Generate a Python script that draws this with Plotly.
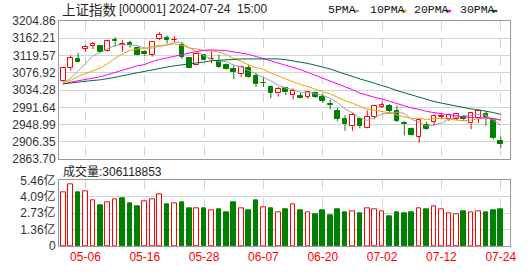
import plotly.graph_objects as go
import pandas as pd

# ---------------- data ----------------
dates = ["04-26", "04-29", "04-30", "05-06", "05-07", "05-08", "05-09", "05-10", "05-13", "05-14",
         "05-15", "05-16", "05-17", "05-20", "05-21", "05-22", "05-23", "05-24", "05-27", "05-28",
         "05-29", "05-30", "05-31", "06-03", "06-04", "06-05", "06-06", "06-07", "06-11", "06-12",
         "06-13", "06-14", "06-17", "06-18", "06-19", "06-20", "06-21", "06-24", "06-25", "06-26",
         "06-27", "06-28", "07-01", "07-02", "07-03", "07-04", "07-05", "07-08", "07-09", "07-10",
         "07-11", "07-12", "07-15", "07-16", "07-17", "07-18", "07-19", "07-22", "07-23", "07-24"]

opens = [3057, 3088, 3111, 3136, 3143, 3143, 3130, 3159, 3145, 3150,
         3139, 3128, 3122, 3161, 3162, 3157.5, 3145, 3113, 3095, 3121,
         3110, 3106.7, 3096.5, 3087, 3073.4, 3089, 3069.5, 3052, 3041.6, 3026,
         3039, 3022, 3019, 3018, 3027, 3016, 2999, 2982, 2963.7, 2945,
         2962, 2941, 2968, 2992.3, 2995.6, 2983.8, 2953.5, 2938.5, 2918.5, 2948,
         2956, 2969, 2963.7, 2963.7, 2968.5, 2952, 2964.7, 2975.7, 2960.6, 2908]
highs = [3092, 3120, 3126, 3145, 3153, 3145, 3159, 3165, 3157, 3156,
         3142, 3133, 3156, 3177, 3169, 3167, 3151, 3116, 3127, 3123,
         3130, 3122, 3100, 3097, 3095, 3097, 3077, 3067, 3046, 3042,
         3040, 3038, 3027, 3031, 3030, 3026, 3011, 2990, 2972, 2978,
         2966, 2984, 2998, 3006, 3000, 2996, 2958, 2942, 2962, 2956,
         2974, 2977, 2977, 2978, 2973, 2980, 2986, 2982, 2962, 2919]
lows = [3055, 3082, 3103, 3129, 3135, 3127, 3129, 3141, 3129, 3139,
        3119, 3118, 3117, 3158, 3149, 3153, 3111, 3088, 3094, 3108,
        3101, 3089, 3085, 3061, 3066, 3064, 3042, 3042, 3014, 3018,
        3022, 3011, 3014, 3013, 3015, 3003, 2987, 2958, 2934, 2934,
        2940, 2940, 2962, 2990, 2976, 2955, 2922, 2920, 2904, 2937,
        2946, 2964, 2958, 2960, 2958, 2938, 2954, 2946, 2912, 2892]
closes = [3088.64, 3113.04, 3104.82, 3140.72, 3147.74, 3128.48, 3154.32, 3154.55, 3148.02, 3145.77,
          3119.90, 3122.40, 3154.03, 3171.15, 3157.97, 3158.54, 3116.39, 3088.87, 3124.04, 3109.57,
          3111.02, 3091.68, 3086.81, 3078.49, 3091.20, 3065.40, 3048.79, 3051.28, 3028.05, 3037.47,
          3028.92, 3032.63, 3015.89, 3030.25, 3018.05, 3007.88, 2998.14, 2963.10, 2950.00, 2972.53,
          2945.85, 2967.40, 2994.73, 2997.01, 2982.38, 2957.57, 2949.94, 2922.45, 2959.37, 2939.36,
          2970.39, 2971.30, 2974.01, 2976.30, 2962.16, 2977.13, 2982.31, 2964.22, 2915.37, 2901.95]
# closes of the 29 sessions before the window (needed for the moving averages)
prior_closes = [3038.23, 3054.64, 3084.93, 3079.69, 3079.11, 3077.11, 3048.03, 3026.31, 3031.48, 2993.14,
                3010.66, 3041.17, 3077.38, 3074.96, 3069.30, 3047.05, 3048.54, 3027.40, 3034.25, 3019.47,
                3057.38, 3007.07, 3071.38, 3074.22, 3065.26, 3044.60, 3021.98, 3044.82, 3052.90]
# volume in 亿 (1e8)
volumes = [4.45, 5.09, 4.48, 4.53, 3.81, 3.36, 3.65, 3.89, 4.00, 3.52,
           3.28, 3.73, 3.89, 4.29, 3.44, 3.57, 3.60, 3.14, 3.17, 3.12,
           2.93, 3.04, 2.80, 3.60, 3.12, 2.96, 3.76, 3.20, 3.12, 2.80,
           3.04, 3.49, 2.93, 2.77, 2.66, 2.96, 2.56, 3.04, 2.77, 2.85,
           2.72, 3.17, 3.01, 2.85, 2.48, 2.80, 2.72, 2.80, 3.17, 3.04,
           3.33, 3.01, 2.69, 2.61, 2.88, 2.77, 2.85, 2.80, 2.98, 3.06118853]

ma_periods = [5, 10, 20, 30]
ma_names = ["5PMA", "10PMA", "20PMA", "30PMA"]
ma_colors = ["#a0a0a0", "#f0a000", "#ff00ff", "#006b3c"]

x_tick_labels = ["05-06", "05-16", "05-28", "06-07", "06-20", "07-02", "07-12", "07-24"]
price_ticks = [2863.70, 2906.35, 2948.99, 2991.64, 3034.28, 3076.92, 3119.57, 3162.21, 3204.86]
vol_ticks = [0, 1.365, 2.73, 4.095, 5.46]
vol_tick_text = ["0", "1.36亿", "2.73亿", "4.09亿", "5.46亿"]

title_name = "上证指数"
title_rest = "[000001] 2024-07-24\u00a0\u00a015:00"

# ---------------- styling ----------------
RED = "#ff0000"
GREEN = "#008000"
GRID = "#d3d3d3"
BORDER = "#9a9a9a"
TXT = "#333333"
BODY_W = 0.62

W, H = 530, 276
ML, MR, MT, MB = 55, 20, 21, 21
PW, PH = W - ML - MR, H - MT - MB


def px2x(px):
    return (px - ML) / PW


def py2y(py):
    return (H - MB - py) / PH


n = len(dates)
idx = list(range(n))
all_closes = pd.Series(prior_closes + closes)
mas = [all_closes.rolling(p).mean().iloc[len(prior_closes):].tolist() for p in ma_periods]

fig = go.Figure()

# wicks (split above/below body so hollow bodies stay clean)
for up in (True, False):
    xs, ys = [], []
    for i in idx:
        o, c = opens[i], closes[i]
        if (c >= o) != up:
            continue
        top, bot = max(o, c), min(o, c)
        xs += [i, i, None, i, i, None]
        ys += [highs[i], top, None, bot, lows[i], None]
    fig.add_trace(go.Scatter(x=xs, y=ys, mode="lines", xaxis="x", yaxis="y",
                             line=dict(color=RED if up else GREEN, width=1),
                             hoverinfo="skip", connectgaps=False))

# candle bodies
for up in (True, False):
    xs, base, hgt = [], [], []
    for i in idx:
        o, c = opens[i], closes[i]
        if (c >= o) != up:
            continue
        xs.append(i)
        base.append(min(o, c))
        hgt.append(max(abs(c - o), 0.4))
    fig.add_trace(go.Bar(x=xs, y=hgt, base=base, width=BODY_W, xaxis="x", yaxis="y",
                         marker=dict(color="#ffffff" if up else GREEN,
                                     line=dict(color=RED if up else GREEN, width=1))))

# moving averages
for name, col, ma in zip(ma_names, ma_colors, mas):
    fig.add_trace(go.Scatter(x=idx, y=ma, mode="lines", name=name, xaxis="x", yaxis="y",
                             line=dict(color=col, width=1)))

# volume bars (colour by change vs previous close)
prev_close = [prior_closes[-1]] + closes[:-1]
for up in (True, False):
    xs, vs = [], []
    for i in idx:
        if (closes[i] >= prev_close[i]) != up:
            continue
        xs.append(i)
        vs.append(volumes[i])
    fig.add_trace(go.Bar(x=xs, y=vs, width=BODY_W, xaxis="x2", yaxis="y2",
                         marker=dict(color="#ffffff" if up else GREEN,
                                     line=dict(color=RED if up else GREEN, width=1))))

x_left = -(59.25 - ML) / 7.482
x_right = (W - MR - 59.25) / 7.482
tickvals_x = [dates.index(d) for d in x_tick_labels]

axis_common = dict(showline=True, mirror=True, linecolor=BORDER, linewidth=1,
                   zeroline=False, ticks="", fixedrange=True)

price_bot = 164.7
vol_top = 186.7

fig.update_layout(
    width=W, height=H,
    margin=dict(l=ML, r=MR, t=MT, b=MB, pad=0),
    paper_bgcolor="#ffffff", plot_bgcolor="#ffffff",
    showlegend=False, barmode="overlay", bargap=0,
    xaxis=dict(domain=[0, 1], anchor="y", range=[x_left, x_right],
               tickvals=tickvals_x, ticktext=x_tick_labels, showticklabels=False,
               showgrid=True, gridcolor=GRID, griddash="dash", gridwidth=1, **axis_common),
    yaxis=dict(domain=[py2y(price_bot), 1], anchor="x", range=[price_ticks[0], price_ticks[-1]],
               tickvals=price_ticks, ticktext=[f"{v:.2f}" for v in price_ticks],
               showgrid=True, gridcolor=GRID, gridwidth=1,
               tickfont=dict(family="Liberation Sans, Arial", size=12, color=TXT), **axis_common),
    xaxis2=dict(domain=[0, 1], anchor="y2", range=[x_left, x_right], matches="x",
                tickvals=tickvals_x, ticktext=x_tick_labels,
                tickfont=dict(family="Liberation Sans, Arial", size=12, color=RED),
                showgrid=True, gridcolor=GRID, griddash="dash", gridwidth=1, **axis_common),
    yaxis2=dict(domain=[0, py2y(vol_top)], anchor="x2", range=[0, 5.46],
                tickvals=vol_ticks, ticktext=vol_tick_text,
                showgrid=True, gridcolor=GRID, gridwidth=1,
                tickfont=dict(family="Liberation Sans, Noto Sans CJK SC", size=12, color=TXT),
                **axis_common),
)

annotations = [
    dict(text=title_name, x=px2x(56), y=py2y(9), xref="paper", yref="paper",
         xanchor="left", yanchor="middle", showarrow=False,
         font=dict(family="Noto Sans CJK SC", size=13.5, color="#222222")),
    dict(text=title_rest, x=px2x(114), y=py2y(9), xref="paper", yref="paper",
         xanchor="left", yanchor="middle", showarrow=False,
         font=dict(family="Liberation Sans, Arial", size=12, color="#222222")),
    dict(text=f"成交量:{round(volumes[-1] * 1e8)}", x=px2x(57), y=py2y(178), xref="paper", yref="paper",
         xanchor="left", yanchor="middle", showarrow=False,
         font=dict(family="Liberation Sans, Noto Sans CJK SC", size=12, color="#222222")),
]
legend_x = [324, 366.5, 411.5, 458]
dash_x = [352.3, 400, 445, 491.7]
shapes = []
for name, col, lx, dx in zip(ma_names, ma_colors, legend_x, dash_x):
    annotations.append(dict(text=name, x=px2x(lx), y=py2y(9.5), xref="paper", yref="paper",
                            xanchor="left", yanchor="middle", showarrow=False,
                            font=dict(family="Liberation Mono, monospace", size=11.5, color="#111111")))
    shapes.append(dict(type="rect", xref="paper", yref="paper",
                       x0=px2x(dx), x1=px2x(dx + 5.5), y0=py2y(11.8), y1=py2y(9.4),
                       fillcolor=col, line=dict(width=0)))
fig.update_layout(annotations=annotations, shapes=shapes)

fig.write_html("out.html")
